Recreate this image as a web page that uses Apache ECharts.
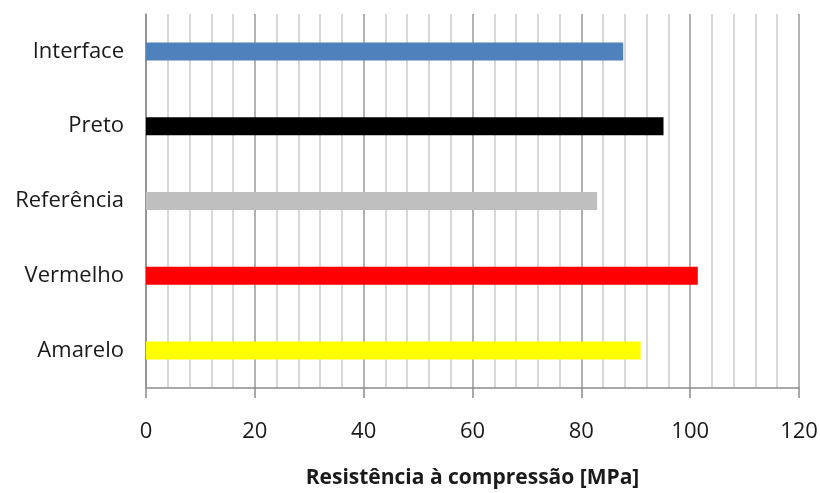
<!DOCTYPE html>
<html>
<head>
<meta charset="utf-8">
<script src="https://cdn.jsdelivr.net/npm/echarts@6/dist/echarts.min.js"></script>
<style>html,body{margin:0;padding:0;background:#fff}#c{width:820px;height:493px}</style>
</head>
<body>
<div id="c"></div>
<script>
const categories = ["Interface", "Preto", "Referência", "Vermelho", "Amarelo"];
const values = [87.7, 95.1, 82.9, 101.4, 90.9];
const colors = ["#4f81bd", "#000000", "#bfbfbf", "#ff0000", "#ffff00"];
const xTicks = [0, 20, 40, 60, 80, 100, 120];
const axisTitle = "Resistência à compressão [MPa]";

const chart = echarts.init(document.getElementById('c'), null, {renderer: 'canvas'});
const font = "'Open Sans', sans-serif";
chart.setOption({
  animation: false,
  grid: {left: 146, right: 21, top: 14, bottom: 105, containLabel: false, outerBoundsMode: 'none'},
  xAxis: {
    type: 'value',
    min: xTicks[0], max: xTicks[xTicks.length - 1], interval: 20,
    axisLine: {show: true, lineStyle: {color: '#8c8c8c', width: 1.5}},
    axisTick: {show: true, length: 10, lineStyle: {color: '#8c8c8c', width: 1.5}},
    axisLabel: {margin: 33, fontSize: 22, fontFamily: font, color: '#1a1a1a'},
    splitLine: {show: true, lineStyle: {color: '#999999', width: 1.5}},
    minorTick: {show: true, splitNumber: 5, length: 0},
    minorSplitLine: {show: true, lineStyle: {color: '#cccccc', width: 1.5}},
    name: axisTitle,
    nameLocation: 'middle',
    nameGap: 80,
    nameTextStyle: {fontSize: 21, fontWeight: 'bold', fontFamily: font, color: '#1a1a1a'}
  },
  yAxis: {
    type: 'category',
    data: categories,
    inverse: true,
    axisLine: {show: true, lineStyle: {color: '#8c8c8c', width: 1.5}},
    axisTick: {show: false},
    axisLabel: {margin: 22, fontSize: 22, fontFamily: font, color: '#1a1a1a', padding: [4, 0, 0, 0]},
    splitLine: {show: false}
  },
  series: [{
    type: 'bar',
    data: values.map((v, i) => ({value: v, itemStyle: {color: colors[i]}})),
    barWidth: '24%'
  }]
});
</script>
</body>
</html>
